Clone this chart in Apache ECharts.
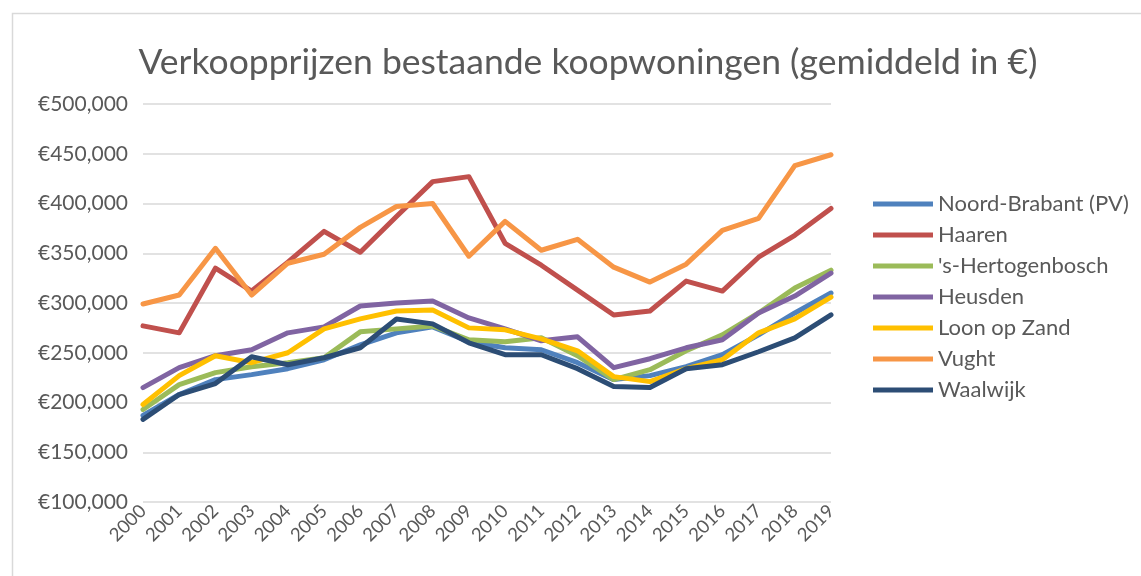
<!DOCTYPE html>
<html>
<head>
<meta charset="utf-8">
<script src="https://cdn.jsdelivr.net/npm/echarts@6/dist/echarts.min.js"></script>
<style>
html,body{margin:0;padding:0;background:#fff;}
#chart{width:1141px;height:576px;}
</style>
</head>
<body>
<div id="chart"></div>
<script>
const years = ['2000','2001','2002','2003','2004','2005','2006','2007','2008','2009','2010','2011','2012','2013','2014','2015','2016','2017','2018','2019'];
const noordBrabant = [187000,208000,223000,228000,234000,243000,258000,270000,276000,261000,255000,253000,240000,223000,227000,236000,248000,268000,290000,310000];
const haaren = [277000,270000,335000,312000,341000,372000,351000,387000,422000,427000,360000,338000,313000,288000,292000,322000,312000,346000,368000,395000];
const hertogenbosch = [193000,218000,230000,236000,240000,245000,271000,274000,277000,263000,261000,265000,247000,223000,233000,252000,268000,290000,315000,333000];
const heusden = [215000,235000,247000,253000,270000,276000,297000,300000,302000,285000,274000,262000,266000,235000,244000,255000,263000,290000,307000,330000];
const loonOpZand = [198000,227000,247000,240000,250000,274000,284000,292000,293000,275000,273000,264000,252000,226000,221000,234000,243000,270000,284000,306000];
const vught = [299000,308000,355000,308000,340000,349000,376000,397000,400000,347000,382000,353000,364000,336000,321000,339000,373000,385000,438000,449000];
const waalwijk = [183000,208000,219000,246000,238000,245000,255000,284000,279000,260000,248000,248000,234000,216000,215000,234000,238000,251000,265000,288000];

const seriesDefs = [
  ['Noord-Brabant (PV)', noordBrabant, '#4F81BD'],
  ['Haaren', haaren, '#C0504D'],
  ["'s-Hertogenbosch", hertogenbosch, '#9BBB59'],
  ['Heusden', heusden, '#8064A2'],
  ['Loon op Zand', loonOpZand, '#FFC000'],
  ['Vught', vught, '#F79646'],
  ['Waalwijk', waalwijk, '#2C4D75']
];

const chart = echarts.init(document.getElementById('chart'), null, {renderer:'canvas'});
const font = 'Lato, "Open Sans", sans-serif';
chart.setOption({
  animation: false,
  backgroundColor: '#fff',
  textStyle: {fontFamily: font},
  title: {
    text: 'Verkoopprijzen bestaande koopwoningen (gemiddeld in €)',
    left: 583, textAlign: 'center', top: 40,
    textStyle: {fontFamily: font, fontSize: 35.5, fontWeight: 'normal', color: '#595959'}
  },
  graphic: [{
    type: 'rect', left: 10, top: 11,
    shape: {width: 1200, height: 700},
    style: {fill: 'none', stroke: '#d9d9d9', lineWidth: 1.5}, silent: true, z: -1
  }],
  legend: {
    orient: 'vertical', left: 868, top: 188,
    itemWidth: 60, itemHeight: 5, itemGap: 9,
    icon: 'rect',
    textStyle: {fontFamily: font, fontSize: 22, color: '#595959', padding: [0,0,0,0]},
    data: seriesDefs.map(s => s[0])
  },
  grid: {left: 143, right: 310, top: 104, bottom: 74, containLabel: false},
  xAxis: {
    type: 'category', data: years, boundaryGap: false,
    axisLine: {show: false}, axisTick: {show: false},
    axisLabel: {interval: 0, rotate: 45, fontSize: 18.5, color: '#595959', margin: 6, fontFamily: font}
  },
  yAxis: {
    type: 'value', min: 100000, max: 500000, interval: 50000,
    axisLine: {show: false}, axisTick: {show: false},
    splitLine: {lineStyle: {color: '#d9d9d9', width: 1.5}},
    axisLabel: {fontSize: 21, color: '#595959', margin: 15, fontFamily: font,
      formatter: v => '€' + v.toLocaleString('en-US')}
  },
  series: seriesDefs.map(s => ({
    name: s[0], type: 'line', data: s[1], symbol: 'none',
    lineStyle: {width: 5, color: s[2], cap: 'round', join: 'round'},
    itemStyle: {color: s[2]}
  }))
});
</script>
</body>
</html>
